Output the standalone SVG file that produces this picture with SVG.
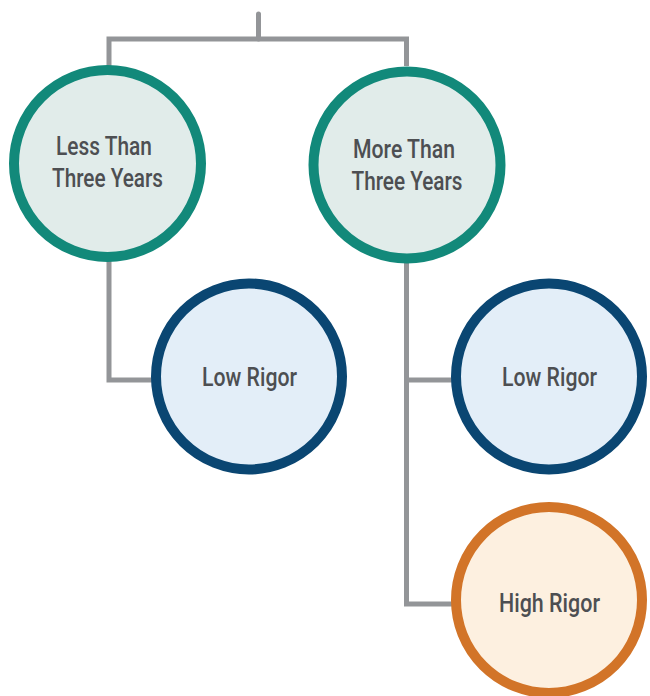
<svg xmlns="http://www.w3.org/2000/svg" width="650" height="696" viewBox="0 0 650 696">
<style>
.ln{fill:none;stroke:#939598;stroke-width:5}
.t{font-family:"Roboto","Liberation Sans",sans-serif;font-size:25px;font-weight:500;fill:#4d4f52;text-anchor:middle}
.teal{fill:#e1ecea;stroke:#12897a;stroke-width:10}
.navy{fill:#e3eef8;stroke:#0a4672;stroke-width:10}
.orng{fill:#fdf0e0;stroke:#d27428;stroke-width:10}
</style>
<rect width="650" height="696" fill="#ffffff"/>
<g id="connectors">
<path class="ln" d="M258.5 14 V39" stroke-linecap="round"/>
<path class="ln" d="M109 66 V39 H406.5 V66"/>
<path class="ln" d="M109 260 V380 H153"/>
<path class="ln" d="M406.5 260 V604 H453"/>
<path class="ln" d="M406.5 380 H453"/>
</g>
<g id="less">
<circle class="teal" cx="107.5" cy="163.5" r="93.5"/>
<text class="t" x="104" y="155" textLength="96" lengthAdjust="spacingAndGlyphs">Less Than</text>
<text class="t" x="107.5" y="187" textLength="111" lengthAdjust="spacingAndGlyphs">Three Years</text>
</g>
<g id="more">
<circle class="teal" cx="407" cy="165" r="93.5"/>
<text class="t" x="404" y="158" textLength="102" lengthAdjust="spacingAndGlyphs">More Than</text>
<text class="t" x="407" y="190" textLength="111" lengthAdjust="spacingAndGlyphs">Three Years</text>
</g>
<g id="low1">
<circle class="navy" cx="249" cy="376.5" r="93"/>
<text class="t" x="249.5" y="386" textLength="95" lengthAdjust="spacingAndGlyphs">Low Rigor</text>
</g>
<g id="low2">
<circle class="navy" cx="549" cy="376.5" r="93"/>
<text class="t" x="549.5" y="386" textLength="95" lengthAdjust="spacingAndGlyphs">Low Rigor</text>
</g>
<g id="high">
<circle class="orng" cx="549" cy="600" r="93"/>
<text class="t" x="549.5" y="612" textLength="101" lengthAdjust="spacingAndGlyphs">High Rigor</text>
</g>
</svg>
